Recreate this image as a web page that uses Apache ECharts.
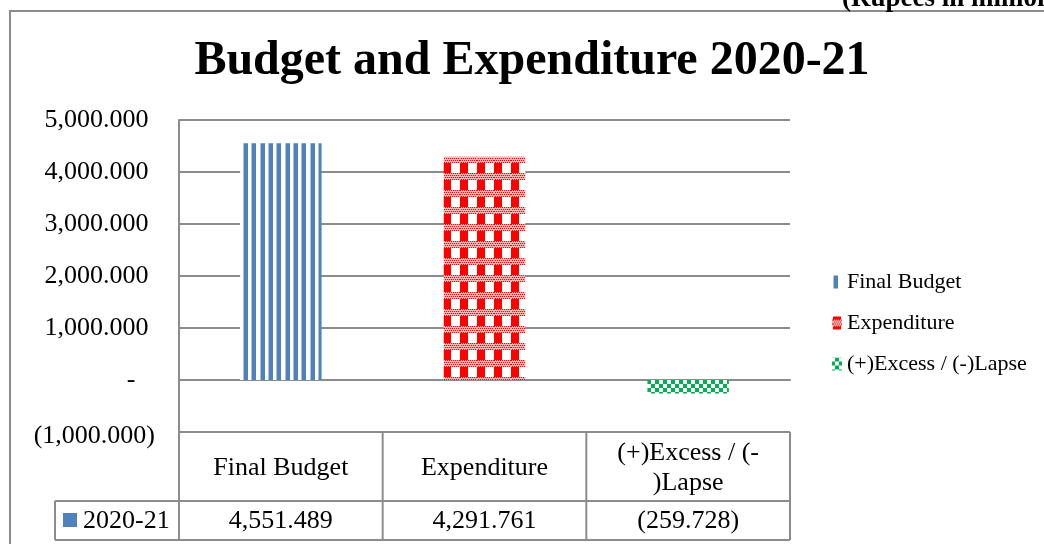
<!DOCTYPE html>
<html>
<head>
<meta charset="utf-8">
<script src="https://cdn.jsdelivr.net/npm/echarts/dist/echarts.min.js"></script>
<style>html,body{margin:0;padding:0;background:#fff}#main{width:1044px;height:544px}</style>
</head>
<body>
<div id="main"></div>
<script>
var categories = ['Final Budget', 'Expenditure', '(+)Excess / (-)Lapse'];
var headerLabels = ['Final Budget', 'Expenditure', '(+)Excess / (-\n)Lapse'];
var values = [4551.489, 4291.761, -259.728];
var rowName = '2020-21';
var yMin = -1000, yMax = 5000, yStep = 1000;

var serif = '"Liberation Serif", "Times New Roman", serif';
var lineCol = '#8c8c8c';

function fmt(n) {
    var s = Math.abs(n).toLocaleString('en-US', {minimumFractionDigits: 3, maximumFractionDigits: 3});
    if (n < 0) return '(' + s + ')';
    if (n === 0) return '-';
    return s;
}

// fill patterns, drawn on small canvases
function tile(w, h, draw) {
    var c = document.createElement('canvas');
    c.width = w; c.height = h;
    var g = c.getContext('2d');
    g.fillStyle = '#fff';
    g.fillRect(0, 0, w, h);
    draw(g);
    return c;
}
var stripes = tile(25, 4, function (g) {
    for (var k = 0; k < 3; k++) {
        var x0 = Math.round(k * 25 / 3);
        g.fillStyle = '#a9c1df';
        g.fillRect(x0, 0, 1, 4);
        g.fillStyle = '#4f81bd';
        g.fillRect(x0 + 1, 0, 4, 4);
    }
});
var gingham = tile(17, 17, function (g) {
    g.fillStyle = '#ffb4b4';
    g.fillRect(0, 0, 17, 7);
    g.fillStyle = '#ff0000';
    for (var i = 0; i < 17; i += 2) {
        for (var j = 0; j < 7; j += 2) {
            g.fillRect(i + (j % 4 ? 1 : 0), j, 1, 1);
        }
    }
    g.fillRect(0, 7, 8, 10);
});
var checker = tile(8, 8, function (g) {
    g.fillStyle = '#00b050';
    g.fillRect(0, 0, 4, 4);
    g.fillRect(4, 4, 4, 4);
});
var fills = [
    {image: stripes, repeat: 'repeat', x: 18, y: 0},
    {image: gingham, repeat: 'repeat', x: 1, y: 3},
    {image: checker, repeat: 'repeat', x: 7, y: 4}
];

var dom = document.getElementById('main');
var myChart = echarts.init(dom, null, {renderer: 'canvas'});

var gridLeft = 179, gridRight = 254, gridTop = 120, gridBottom = 112;

option = {
    animation: false,
    title: {
        text: 'Budget and Expenditure 2020-21',
        left: 532,
        textAlign: 'center',
        top: 38,
        padding: 0,
        textStyle: {fontFamily: serif, fontWeight: 'bold', fontSize: 48, color: '#000'}
    },
    legend: {
        orient: 'vertical',
        left: 832,
        top: 271,
        padding: 0,
        itemWidth: 10,
        itemHeight: 13,
        itemGap: 19,
        icon: 'rect',
        data: categories,
        textStyle: {fontFamily: serif, fontSize: 22, lineHeight: 22, color: '#000'}
    },
    grid: {left: gridLeft, right: gridRight, top: gridTop, bottom: gridBottom, containLabel: false},
    xAxis: {
        type: 'category',
        data: categories,
        axisLine: {onZero: true, lineStyle: {color: lineCol, width: 2}},
        axisTick: {show: false},
        axisLabel: {show: false},
        splitLine: {show: false}
    },
    yAxis: {
        type: 'value',
        min: yMin,
        max: yMax,
        interval: yStep,
        axisLine: {show: true, lineStyle: {color: lineCol, width: 2}},
        axisTick: {show: false},
        splitLine: {show: true, lineStyle: {color: lineCol, width: 2}},
        axisLabel: {
            margin: 24,
            fontFamily: serif,
            fontSize: 26,
            color: '#000',
            rich: {neg: {fontFamily: serif, fontSize: 26, color: '#000', padding: [9, 0, 0, 0]}},
            formatter: function (v) {
                if (v === 0) return '-   ';
                return v < 0 ? '{neg|' + fmt(v) + '}' : fmt(v) + ' ';
            }
        }
    },
    series: categories.map(function (name, i) {
        return {
            name: name,
            type: 'bar',
            stack: 'all',
            barWidth: '40%',
            itemStyle: {color: fills[i]},
            data: values.map(function (v, j) { return j === i ? v : '-'; })
        };
    })
};
myChart.setOption(option);

// data table under the plot, laid out on the category axis
var x0 = gridLeft, x1 = 1044 - gridRight, yTop = 544 - gridBottom;
var band = (x1 - x0) / categories.length;
var headBot = yTop + 69, rowBot = headBot + 39, keyLeft = 55;
var els = [];
function line(a, b, c, d) {
    els.push({type: 'line', silent: true, shape: {x1: a, y1: b, x2: c, y2: d},
        style: {stroke: lineCol, lineWidth: 2}});
}
function text(t, x, y, align, size, bold) {
    els.push({type: 'text', silent: true, style: {
        text: t, x: x, y: y, align: align, textAlign: align,
        verticalAlign: 'middle', textVerticalAlign: 'middle',
        lineHeight: 30,
        font: (bold ? 'bold ' : '') + size + 'px ' + serif, fill: '#000'}});
}
// outer chart frame
els.push({type: 'rect', silent: true, shape: {x: 10, y: 11, width: 1100, height: 600},
    style: {fill: 'none', stroke: lineCol, lineWidth: 2}});
text('(Rupees in million)', 842, -1, 'left', 27, true);

line(x0, yTop, x0, rowBot);
line(keyLeft, headBot, x1, headBot);
line(keyLeft, rowBot, x1, rowBot);
line(keyLeft, headBot, keyLeft, rowBot);
categories.forEach(function (c, i) {
    var cx = myChart.convertToPixel({xAxisIndex: 0}, c);
    line(cx + band / 2, yTop, cx + band / 2, rowBot);
    text(headerLabels[i], cx, (yTop + headBot) / 2 + 2, 'center', 26);
    text(fmt(values[i]), cx, (headBot + rowBot) / 2 + 1, 'center', 26);
});
els.push({type: 'rect', silent: true, shape: {x: 63, y: 513, width: 14, height: 14},
    style: {fill: '#4f81bd'}});
text(rowName, 83, (headBot + rowBot) / 2 + 1, 'left', 26);

myChart.setOption({graphic: {elements: els}});
</script>
</body>
</html>
